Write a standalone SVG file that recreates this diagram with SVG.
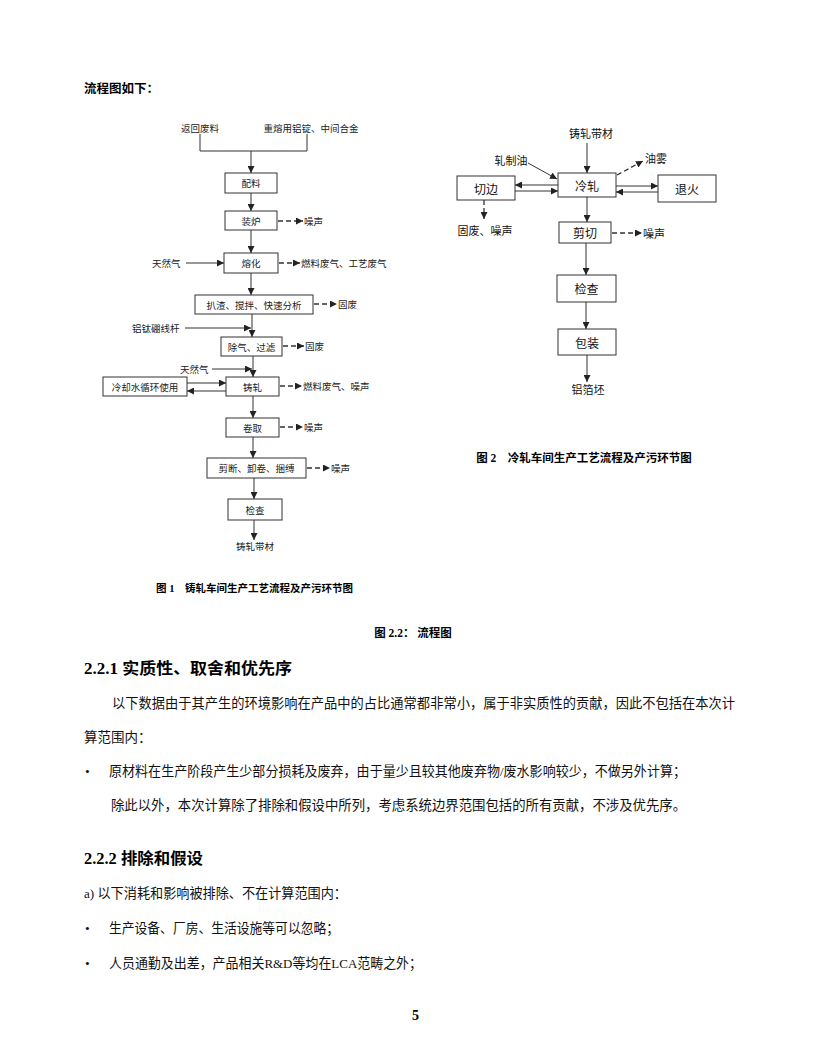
<svg xmlns="http://www.w3.org/2000/svg" width="816" height="1056" viewBox="0 0 816 1056">
<style>
.bg{fill:#fff}
.box{fill:#fff;stroke:#333;stroke-width:1}
.ln{fill:none;stroke:#333;stroke-width:1}
.dl{fill:none;stroke:#333;stroke-width:1.3;stroke-dasharray:5,3}
.l{font-family:"Noto Sans CJK SC","Liberation Sans",sans-serif;font-size:9.5px;fill:#222;dominant-baseline:central}
.r{font-family:"Noto Sans CJK SC","Liberation Sans",sans-serif;font-size:11px;fill:#111;dominant-baseline:central}
.rb{font-family:"Noto Sans CJK SC","Liberation Sans",sans-serif;font-size:12px;fill:#111;dominant-baseline:central}
.cap{font-family:"Liberation Serif","Noto Sans CJK SC",serif;font-weight:bold;fill:#000;dominant-baseline:central}
.body{font-family:"Liberation Serif","Noto Sans CJK SC",serif;font-size:13.5px;fill:#111}
.h{font-family:"Liberation Serif","Noto Sans CJK SC",serif;font-size:16px;font-weight:bold;fill:#000}
.c{text-anchor:middle}
</style>
<defs>
<marker id="a" markerUnits="userSpaceOnUse" markerWidth="8" markerHeight="7" refX="7" refY="3.5" orient="auto"><path d="M0,0 L7,3.5 L0,7 z" fill="#222"/></marker>
</defs>
<rect class="bg" x="0" y="0" width="816" height="1056"/>

<text class="h" x="84" y="93" style="font-size:12.5px">流程图如下：</text>

<g id="connectors">
<path class="ln" d="M200,134 V151 H307 V134"/>
<path class="ln" d="M251,151 V173" marker-end="url(#a)"/>
<path class="ln" d="M251,193 V211" marker-end="url(#a)"/>
<path class="ln" d="M251,230 V253" marker-end="url(#a)"/>
<path class="ln" d="M186,263 H224" marker-end="url(#a)"/>
<path class="ln" d="M251,273 V295" marker-end="url(#a)"/>
<path class="ln" d="M252,314 V337" marker-end="url(#a)"/>
<path class="ln" d="M185,328 H251" marker-end="url(#a)"/>
<path class="ln" d="M253,356 V377" marker-end="url(#a)"/>
<path class="ln" d="M212,369 H252" marker-end="url(#a)"/>
<path class="ln" d="M187,383 H226" marker-end="url(#a)"/>
<path class="ln" d="M226,391 H187" marker-end="url(#a)"/>
<path class="ln" d="M253,396 V418" marker-end="url(#a)"/>
<path class="ln" d="M253,437 V458" marker-end="url(#a)"/>
<path class="ln" d="M254,478 V499" marker-end="url(#a)"/>
<path class="ln" d="M254,520 V540" marker-end="url(#a)"/>
<path class="dl" d="M278,221 H303" marker-end="url(#a)"/>
<path class="dl" d="M279,263 H300" marker-end="url(#a)"/>
<path class="dl" d="M314,304 H337" marker-end="url(#a)"/>
<path class="dl" d="M283,346 H304" marker-end="url(#a)"/>
<path class="dl" d="M280,386 H302" marker-end="url(#a)"/>
<path class="dl" d="M280,427 H303" marker-end="url(#a)"/>
<path class="dl" d="M307,468 H330" marker-end="url(#a)"/>

<path class="ln" d="M587,143 V173" marker-end="url(#a)"/>
<path class="ln" d="M528,163 L557,179" marker-end="url(#a)"/>
<path class="dl" d="M617,175 L643,161" marker-end="url(#a)"/>
<path class="ln" d="M558,185 H515" marker-end="url(#a)"/>
<path class="ln" d="M515,191 H558" marker-end="url(#a)"/>
<path class="ln" d="M616,186 H658" marker-end="url(#a)"/>
<path class="ln" d="M658,192 H616" marker-end="url(#a)"/>
<path class="dl" d="M484,200 V219" marker-end="url(#a)"/>
<path class="ln" d="M587,197 V222" marker-end="url(#a)"/>
<path class="dl" d="M612,233 H642" marker-end="url(#a)"/>
<path class="ln" d="M586,243 V275" marker-end="url(#a)"/>
<path class="ln" d="M586,302 V329" marker-end="url(#a)"/>
<path class="ln" d="M587,355 V382" marker-end="url(#a)"/>
</g>

<g id="left-labels">
<text class="l c" x="200" y="128">返回废料</text>
<text class="l c" x="311" y="128">重熔用铝锭、中间合金</text>
<text class="l" x="152" y="263">天然气</text>
<text class="l" x="132" y="328">铝钛硼线杆</text>
<text class="l" x="180" y="369">天然气</text>
<text class="l" x="304" y="221">噪声</text>
<text class="l" x="301" y="263">燃料废气、工艺废气</text>
<text class="l" x="338" y="304">固废</text>
<text class="l" x="305" y="346">固废</text>
<text class="l" x="303" y="386">燃料废气、噪声</text>
<text class="l" x="304" y="427">噪声</text>
<text class="l" x="331" y="468">噪声</text>
<text class="l c" x="255" y="546">铸轧带材</text>
</g>

<g id="n-peiliao"><rect class="box" x="225" y="173" width="52" height="20"/><text class="l c" x="251" y="183">配料</text></g>
<g id="n-zhuanglu"><rect class="box" x="225" y="211" width="52" height="19"/><text class="l c" x="251" y="220.5">装炉</text></g>
<g id="n-ronghua"><rect class="box" x="224" y="253" width="54" height="20"/><text class="l c" x="251" y="263">熔化</text></g>
<g id="n-bazha"><rect class="box" x="195" y="295" width="118" height="19"/><text class="l c" x="254" y="304.5">扒渣、搅拌、快速分析</text></g>
<g id="n-chuqi"><rect class="box" x="221" y="337" width="61" height="19"/><text class="l c" x="251.5" y="346.5">除气、过滤</text></g>
<g id="n-zhuzha"><rect class="box" x="226" y="377" width="53" height="19"/><text class="l c" x="252.5" y="386.5">铸轧</text></g>
<g id="n-lengque"><rect class="box" x="103" y="377" width="84" height="19"/><text class="l c" x="145" y="386.5">冷却水循环使用</text></g>
<g id="n-juanqu"><rect class="box" x="226" y="418" width="53" height="19"/><text class="l c" x="252.5" y="427.5">卷取</text></g>
<g id="n-jianduan"><rect class="box" x="207" y="458" width="99" height="20"/><text class="l c" x="256.5" y="468">剪断、卸卷、捆缚</text></g>
<g id="n-jiancha1"><rect class="box" x="228" y="499" width="54" height="21"/><text class="l c" x="255" y="509.5">检查</text></g>

<text class="cap c" x="254.5" y="588" style="font-size:10.5px">图 1　铸轧车间生产工艺流程及产污环节图</text>

<g id="right-labels">
<text class="r c" x="591" y="133">铸轧带材</text>
<text class="r c" x="511" y="160">轧制油</text>
<text class="r" x="645" y="158">油雾</text>
<text class="r c" x="485" y="230">固废、噪声</text>
<text class="r" x="643" y="233">噪声</text>
<text class="r c" x="588" y="389">铝箔坯</text>
</g>

<g id="n-lengzha"><rect class="box" x="558" y="173" width="58" height="24"/><text class="rb c" x="587" y="185">冷轧</text></g>
<g id="n-qiebian"><rect class="box" x="457" y="176" width="58" height="24"/><text class="rb c" x="486" y="188">切边</text></g>
<g id="n-tuihuo"><rect class="box" x="658" y="175" width="58" height="27"/><text class="rb c" x="687" y="188.5">退火</text></g>
<g id="n-jianqie"><rect class="box" x="559" y="222" width="52" height="21"/><text class="rb c" x="585" y="232.5">剪切</text></g>
<g id="n-jiancha2"><rect class="box" x="557" y="275" width="59" height="27"/><text class="rb c" x="586.5" y="288.5">检查</text></g>
<g id="n-baozhuang"><rect class="box" x="558" y="329" width="58" height="26"/><text class="rb c" x="587" y="342">包装</text></g>

<text class="cap c" x="584" y="458" style="font-size:11.5px">图 2　冷轧车间生产工艺流程及产污环节图</text>

<text class="cap c" x="413" y="633" style="font-size:11.5px">图 2.2：  流程图</text>

<text class="h" x="84" y="674" textLength="208" lengthAdjust="spacingAndGlyphs">2.2.1  实质性、取舍和优先序</text>
<text class="body" x="112" y="708" textLength="623" lengthAdjust="spacingAndGlyphs">以下数据由于其产生的环境影响在产品中的占比通常都非常小，属于非实质性的贡献，因此不包括在本次计</text>
<text class="body" x="84" y="742">算范围内：</text>
<text class="body" x="85" y="776">•</text>
<text class="body" x="109" y="776" textLength="577" lengthAdjust="spacingAndGlyphs">原材料在生产阶段产生少部分损耗及废弃，由于量少且较其他废弃物/废水影响较少，不做另外计算；</text>
<text class="body" x="111" y="810" textLength="575" lengthAdjust="spacingAndGlyphs">除此以外，本次计算除了排除和假设中所列，考虑系统边界范围包括的所有贡献，不涉及优先序。</text>

<text class="h" x="84" y="864" textLength="119" lengthAdjust="spacingAndGlyphs">2.2.2  排除和假设</text>
<text class="body" x="84" y="898" textLength="263" lengthAdjust="spacingAndGlyphs">a)  以下消耗和影响被排除、不在计算范围内：</text>
<text class="body" x="85" y="933">•</text>
<text class="body" x="109" y="933" textLength="230" lengthAdjust="spacingAndGlyphs">生产设备、厂房、生活设施等可以忽略；</text>
<text class="body" x="85" y="968">•</text>
<text class="body" x="109" y="968" textLength="313" lengthAdjust="spacingAndGlyphs">人员通勤及出差，产品相关R&amp;D等均在LCA范畴之外；</text>

<text class="h" x="412" y="1020" style="font-size:14px">5</text>
</svg>
